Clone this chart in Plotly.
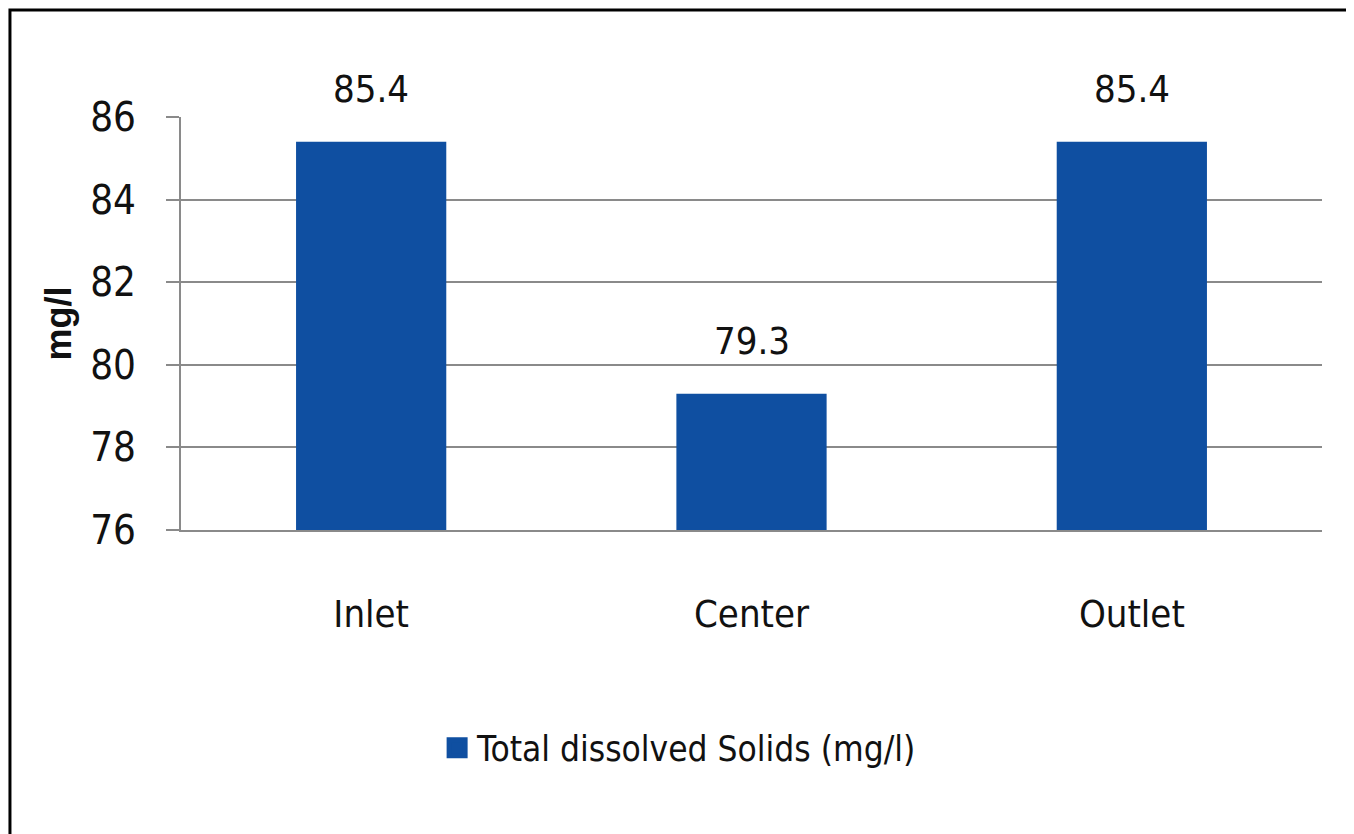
import plotly.graph_objects as go

# Values
sites = ["Inlet", "Center", "Outlet"]
tds_values = [85.4, 79.3, 85.4]
y_ticks = [76, 78, 80, 82, 84, 86]
series_name = "Total dissolved Solids (mg/l)"

FONT = "DejaVu Sans Condensed, Liberation Sans Narrow, Open Sans, sans-serif"
BAR_COLOR = "#0F4FA1"
GRID = "#8a8a8a"
TEXT = "#111111"

fig = go.Figure()

fig.add_trace(
    go.Bar(
        x=sites,
        y=tds_values,
        name=series_name,
        marker=dict(color=BAR_COLOR, line=dict(width=0)),
        showlegend=False,
    )
)

# legend-only entry so the swatch can be a larger square
fig.add_trace(
    go.Scatter(
        x=[None],
        y=[None],
        mode="markers",
        name=series_name,
        marker=dict(symbol="square", size=16, color=BAR_COLOR,
                    line=dict(color=BAR_COLOR, width=5)),
    )
)

# value labels above the bars
for site, val in zip(sites, tds_values):
    fig.add_annotation(
        x=site, y=val,
        text=f"{val:.1f}",
        showarrow=False,
        yanchor="bottom",
        yshift=29,
        font=dict(family=FONT, size=38, color=TEXT),
    )

# black frame round the chart
fig.add_shape(
    type="rect",
    xref="paper", yref="paper",
    x0=-0.1499, x1=1.0237, y0=-0.80, y1=1.259,
    line=dict(color="black", width=3),
    fillcolor="rgba(0,0,0,0)",
    layer="above",
)

fig.update_layout(
    width=1354,
    height=834,
    font=dict(family=FONT, color=TEXT),
    plot_bgcolor="white",
    paper_bgcolor="white",
    margin=dict(l=173, r=40, t=109, b=312, autoexpand=False),
    bargap=0.605,
    showlegend=True,
    legend=dict(
        orientation="h",
        x=0.437, xanchor="center",
        y=-0.528, yanchor="middle",
        font=dict(family=FONT, size=35, color=TEXT),
        itemsizing="trace",
    ),
    xaxis=dict(
        showline=True,
        linecolor=GRID,
        linewidth=2,
        ticks="",
        ticklabelstandoff=49,
        tickfont=dict(family=FONT, size=38, color=TEXT),
        showgrid=False,
    ),
    yaxis=dict(
        range=[76, 86],
        tickvals=y_ticks,
        showgrid=True,
        gridcolor=GRID,
        gridwidth=2,
        showline=True,
        linecolor=GRID,
        linewidth=2,
        ticks="outside",
        ticklen=13,
        tickwidth=2,
        tickcolor=GRID,
        ticklabelstandoff=22,
        tickfont=dict(family=FONT, size=40, color=TEXT),
        zeroline=False,
        title=dict(
            text="<b>mg/l</b>",
            font=dict(family="Liberation Sans, Arial, sans-serif", size=36, color=TEXT),
            standoff=8,
        ),
    ),
)

fig.write_html("out.html")
